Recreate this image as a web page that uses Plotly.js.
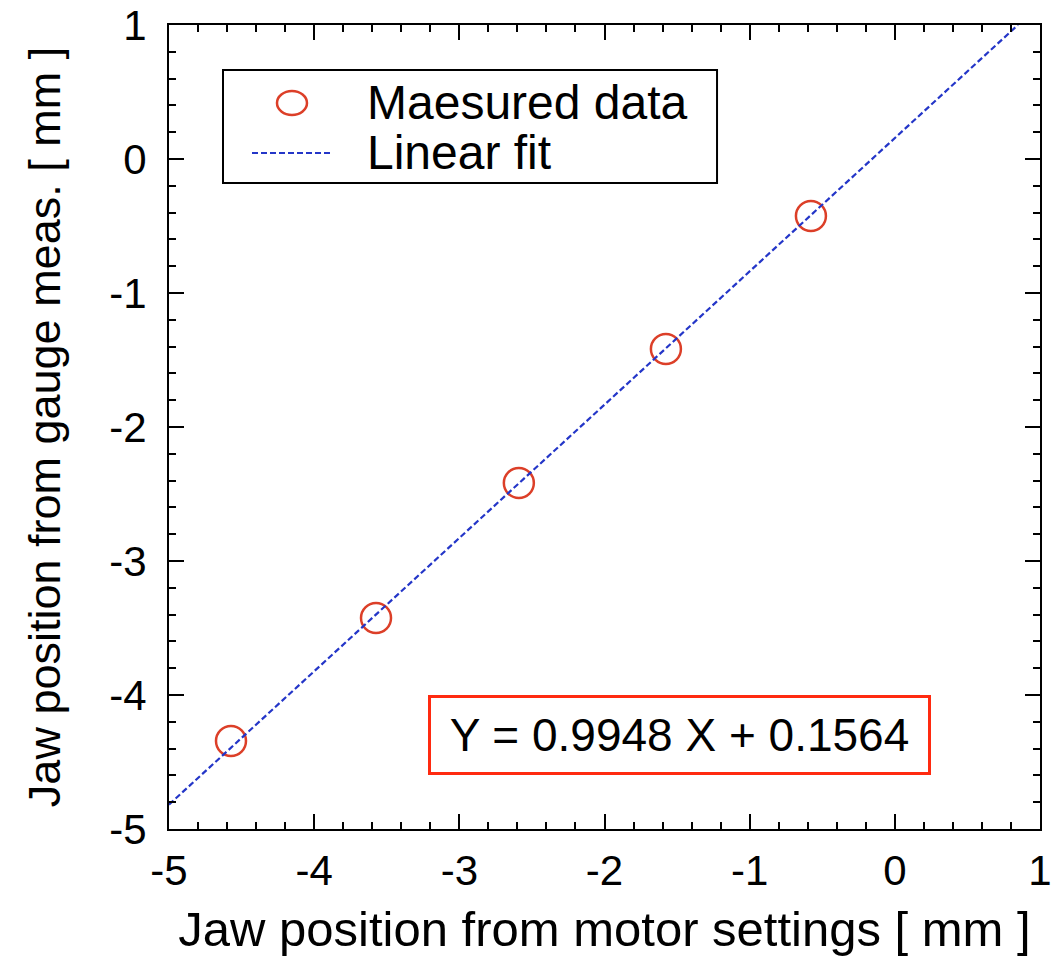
<!DOCTYPE html>
<html>
<head>
<meta charset="utf-8">
<script src="https://cdn.plot.ly/plotly-3.0.1.min.js"></script>
<style>html,body{margin:0;padding:0;background:#fff}#chart{width:1054px;height:960px}</style>
</head>
<body>
<div id="chart"></div>
<script>
// Measured data points
const measX = [-4.573, -3.574, -2.590, -1.577, -0.578];
const measY = [-4.343, -3.425, -2.418, -1.418, -0.425];
// Linear fit end points
const fitX = [-5, 0.848];
const fitY = [-4.818, 1.0];
const seriesNames = ["Maesured data", "Linear fit"];
const fitLabel = "Y = 0.9948 X + 0.1564";
const xTitle = "Jaw position from motor settings [ mm ]";
const yTitle = "Jaw position from gauge meas. [ mm ]";
const tickVals = [-5, -4, -3, -2, -1, 0, 1];
const tickText = ["-5", "-4", "-3", "-2", "-1", "0", "1"];

const font = "Liberation Sans, Arial, Helvetica, sans-serif";
const red = "#dc3f28";
const blue = "#2436c8";

const traces = [
  {
    x: measX, y: measY, name: seriesNames[0], mode: "markers", type: "scatter",
    marker: {symbol: "circle-open", size: 30, color: red, line: {width: 2.5, color: red}}
  },
  {
    x: fitX, y: fitY, name: seriesNames[1], mode: "lines", type: "scatter",
    line: {color: blue, width: 2.2, dash: "6px,3px"}
  }
];

const axisCommon = {
  showgrid: false, zeroline: false, showline: true, linecolor: "#000", linewidth: 2,
  mirror: "ticks", ticks: "inside", ticklen: 15, tickwidth: 2, tickcolor: "#000",
  tickvals: tickVals, ticktext: tickText, range: [-5, 1],
  tickfont: {family: font, size: 42, color: "#000"},
  minor: {ticks: "inside", ticklen: 7, tickwidth: 2, tickcolor: "#000", dtick: 0.2, showgrid: false}
};

// Legend box drawn as shapes/annotations (paper coordinates)
const legBox = {x0: 0.062, x1: 0.6292, y0: 0.8035, y1: 0.944};
const legRows = [0.903, 0.8408];
const legTextX = 0.225;

const shapes = [
  {type: "rect", xref: "paper", yref: "paper", x0: legBox.x0, x1: legBox.x1, y0: legBox.y0, y1: legBox.y1,
   line: {color: "#000", width: 2}, fillcolor: "#fff", layer: "above"},
  {type: "circle", xref: "paper", yref: "paper", xsizemode: "pixel", ysizemode: "pixel",
   xanchor: 0.1412, yanchor: legRows[0], x0: -15, x1: 15, y0: -12, y1: 12,
   line: {color: red, width: 2.5}, layer: "above"},
  {type: "line", xref: "paper", yref: "paper", x0: 0.0953, x1: 0.1883, y0: legRows[1], y1: legRows[1],
   line: {color: blue, width: 2.2, dash: "6px,3px"}, layer: "above"}
];

const annotations = [
  {xref: "paper", yref: "paper", x: legTextX, y: legRows[0], xanchor: "left", yanchor: "middle",
   text: seriesNames[0], showarrow: false, font: {family: font, size: 48, color: "#000"}},
  {xref: "paper", yref: "paper", x: legTextX, y: legRows[1], xanchor: "left", yanchor: "middle",
   text: seriesNames[1], showarrow: false, font: {family: font, size: 48, color: "#000"}},
  {xref: "x", yref: "y", x: -1.48, y: -4.30, xanchor: "center", yanchor: "middle",
   text: fitLabel, showarrow: false, width: 477, height: 54,
   font: {family: font, size: 46, color: "#000"},
   bordercolor: "#ff2a10", borderwidth: 3, borderpad: 10, bgcolor: "#fff"}
];

const layout = {
  width: 1054, height: 960,
  margin: {l: 169, r: 14, t: 25, b: 131},
  paper_bgcolor: "#fff", plot_bgcolor: "#fff",
  font: {family: font, color: "#000"},
  showlegend: false,
  xaxis: Object.assign({}, axisCommon, {
    ticklabelstandoff: 4,
    title: {text: xTitle, font: {family: font, size: 49, color: "#000"}, standoff: 18}
  }),
  yaxis: Object.assign({}, axisCommon, {
    ticklabelstandoff: 12,
    title: {text: yTitle, font: {family: font, size: 45, color: "#000"}, standoff: 34}
  }),
  shapes: shapes,
  annotations: annotations
};

Plotly.newPlot("chart", traces, layout, {displayModeBar: false, staticPlot: true});
</script>
</body>
</html>
